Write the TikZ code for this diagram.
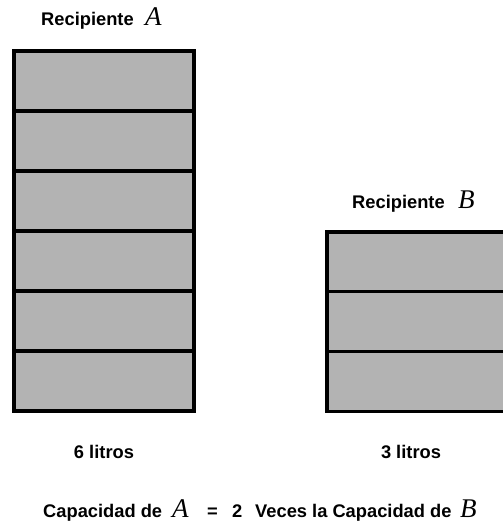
\documentclass[tikz,border=0pt]{standalone}
\usepackage{fontspec}
\setsansfont{Liberation Sans}
\newfontfamily\varfont{Liberation Serif}
\begin{document}
\begin{tikzpicture}[x=1pt,y=-1pt,
  cell/.style={fill=boxgray,draw=black,line width=3.2pt},
  lbl/.style={inner sep=0pt,font=\sffamily\bfseries\fontsize{18.3}{22}\selectfont},
  var/.style={inner sep=0pt,font=\varfont\itshape\fontsize{27}{31}\selectfont}]
\definecolor{boxgray}{RGB}{179,179,179}
\useasboundingbox (0,0) rectangle (503,525);
% container A: six one-litre cells
\foreach \i in {0,...,5}
  \draw[cell] (14,51+60*\i) rectangle (194,111+60*\i);
% container B: three cells, running past the right edge
\foreach \i in {0,...,2}
  \draw[cell] (327,232+59.7*\i) rectangle (510,291.7+59.7*\i);
% titles
\node[lbl,anchor=base west] (ta) at (41,25) {Recipiente};
\node[var,anchor=base west] (va) at (145,25) {A};
\node[lbl,anchor=base west] (tb) at (352,208) {Recipiente};
\node[var,anchor=base west] (vb) at (458,208) {B};
% capacities
\node[lbl,anchor=base] (ca) at (104,458) {6 litros};
\node[lbl,anchor=base] (cb) at (411,458) {3 litros};
% relation
\node[lbl,anchor=base west] (r1) at (43,517) {Capacidad de};
\node[var,anchor=base west] (r2) at (172,517) {A};
\node[lbl,anchor=base west] (r3) at (207,517) {=};
\node[lbl,anchor=base west] (r4) at (232,517) {2};
\node[lbl,anchor=base west] (r5) at (255,517) {Veces la Capacidad de};
\node[var,anchor=base west] (r6) at (460,517) {B};
\end{tikzpicture}
\end{document}
